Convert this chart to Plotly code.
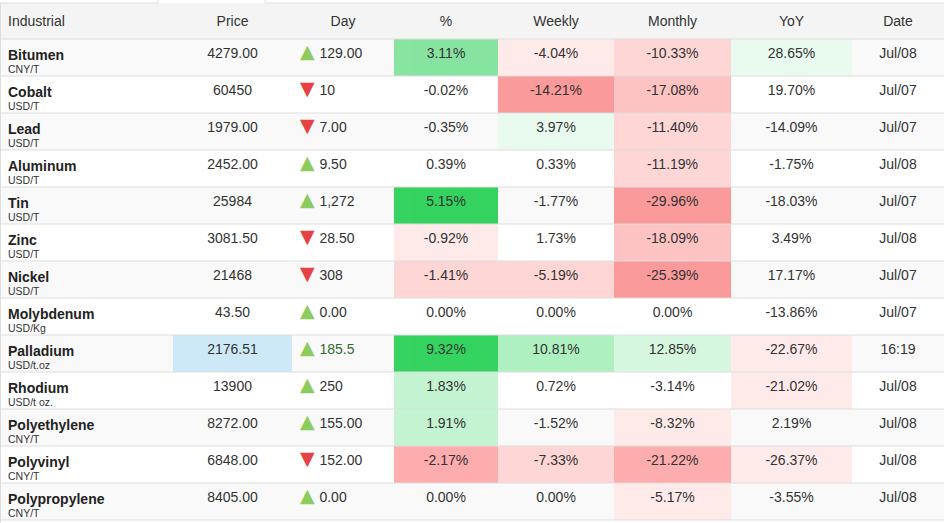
import plotly.graph_objects as go

# commodity table data
names = ["Bitumen", "Cobalt", "Lead", "Aluminum", "Tin", "Zinc", "Nickel",
         "Molybdenum", "Palladium", "Rhodium", "Polyethylene", "Polyvinyl",
         "Polypropylene"]
units = ["CNY/T", "USD/T", "USD/T", "USD/T", "USD/T", "USD/T", "USD/T",
         "USD/Kg", "USD/t.oz", "USD/t oz.", "CNY/T", "CNY/T", "CNY/T"]
prices = ["4279.00", "60450", "1979.00", "2452.00", "25984", "3081.50", "21468",
          "43.50", "2176.51", "13900", "8272.00", "6848.00", "8405.00"]
day_change = ["129.00", "-10", "-7.00", "9.50", "1,272", "-28.50", "-308",
              "0.00", "185.5", "250", "155.00", "-152.00", "0.00"]
pct = [3.11, -0.02, -0.35, 0.39, 5.15, -0.92, -1.41, 0.00, 9.32, 1.83, 1.91, -2.17, 0.00]
weekly = [-4.04, -14.21, 3.97, 0.33, -1.77, 1.73, -5.19, 0.00, 10.81, 0.72, -1.52, -7.33, 0.00]
monthly = [-10.33, -17.08, -11.40, -11.19, -29.96, -18.09, -25.39, 0.00, 12.85,
           -3.14, -8.32, -21.22, -5.17]
yoy = [28.65, 19.70, -14.09, -1.75, -18.03, 3.49, 17.17, -13.86, -22.67, -21.02,
       2.19, -26.37, -3.55]
dates = ["Jul/08", "Jul/07", "Jul/07", "Jul/08", "Jul/07", "Jul/08", "Jul/07",
         "Jul/07", "16:19", "Jul/08", "Jul/08", "Jul/08", "Jul/08"]
headers = ["Industrial", "Price", "Day", "%", "Weekly", "Monthly", "YoY", "Date"]
live_row = "Palladium"

W = 944
FIG_H = 560          # taller than the window, the bottom is cut like the page
TOP = 3
HEAD_H = 36
HEAD_SHIFT = 4       # header text sits a bit lower than the table's own padding
ROW_H = 37
UNIT_DY = 18         # unit line below the name
TRI_DY = -3          # arrows a touch higher
col_widths = [173, 119, 102, 104, 116, 117, 121, 92]
FONT = "Liberation Sans, Arial, sans-serif"
CLEAR = "rgba(0,0,0,0)"

greens = ["#e9faee", "#d5f7df", "#c3f3d0", "#aef0c0", "#99eab0", "#86e4a0", "#34d35f"]
reds = ["#ffeaea", "#ffd6d6", "#fdc2c2", "#fdadad", "#fa9a9a", "#f78686"]
stripe = ["#f9f9f9", "#ffffff"]


def heat(values, step):
    out = []
    for i, v in enumerate(values):
        tier = int(abs(v) / step)
        if tier == 0:
            out.append(stripe[i % 2])
        elif v > 0:
            out.append(greens[min(tier, len(greens)) - 1])
        else:
            out.append(reds[min(tier, len(reds)) - 1])
    return out


def fmt(values):
    return ["%.2f%%" % v for v in values]


def ypx(px):
    return 1 - px / FIG_H


n = len(names)
base = [stripe[i % 2] for i in range(n)]
price_fill = ["#cde9f8" if names[i] == live_row else base[i] for i in range(n)]
name_cells = ["<b>%s</b>" % s for s in names]

pad = "\u00a0" * 5
day_cells = [pad + d.lstrip("-") for d in day_change]
day_colors = ["#2f6b2f" if names[i] == live_row else "#333" for i in range(n)]
tri_cells = ["▼" if d.startswith("-") else "▲" for d in day_change]
tri_colors = ["#e84141" if d.startswith("-") else "#8dcb5c" for d in day_change]

dom_y = [0, ypx(TOP + HEAD_SHIFT)]

fig = go.Figure()
fig.add_trace(go.Table(
    domain=dict(x=[0, 1], y=dom_y),
    columnwidth=col_widths,
    header=dict(
        values=headers,
        fill_color="#f4f4f4",
        line=dict(width=0),
        align=["left"] + ["center"] * 7,
        font=dict(family=FONT, size=14, color="#333"),
        height=HEAD_H - HEAD_SHIFT,
    ),
    cells=dict(
        values=[name_cells, prices, day_cells, fmt(pct), fmt(weekly), fmt(monthly),
                fmt(yoy), dates],
        fill_color=[base, price_fill, base, heat(pct, 0.5), heat(weekly, 2.5),
                    heat(monthly, 5), heat(yoy, 20), base],
        line=dict(width=0),
        align=["left", "center", "left", "center", "center", "center", "center", "center"],
        font=dict(family=FONT, size=14,
                  color=["#222", "#333", day_colors, "#333", "#333", "#333", "#333", "#333"]),
        height=ROW_H,
    ),
))

# arrows of the Day column
x_day = sum(col_widths[:2])
fig.add_trace(go.Table(
    domain=dict(x=[x_day / W, (x_day + col_widths[2]) / W], y=dom_y),
    header=dict(values=[""], fill_color=CLEAR, line=dict(width=0),
                height=HEAD_H - HEAD_SHIFT + TRI_DY),
    cells=dict(values=[tri_cells], fill_color=CLEAR, line=dict(width=0), align="left",
               font=dict(family="DejaVu Sans", size=19, color=[tri_colors]), height=ROW_H),
))

# unit line under each commodity name
fig.add_trace(go.Table(
    domain=dict(x=[0, col_widths[0] / W], y=dom_y),
    header=dict(values=[""], fill_color=CLEAR, line=dict(width=0),
                height=HEAD_H - HEAD_SHIFT + UNIT_DY),
    cells=dict(values=[units], fill_color=CLEAR, line=dict(width=0), align="left",
               font=dict(family=FONT, size=10.5, color="#333"), height=ROW_H),
))

# horizontal separators only, like the page's css table
line_col = "#dddddd"
shapes = [dict(type="rect", xref="paper", yref="paper", x0=0, x1=1,
               y0=ypx(TOP + HEAD_SHIFT), y1=ypx(TOP), fillcolor="#f4f4f4",
               line=dict(width=0))]
for k in range(n + 1):
    y = TOP + HEAD_H + k * ROW_H
    shapes.append(dict(type="line", xref="paper", yref="paper", x0=0, x1=1,
                       y0=ypx(y), y1=ypx(y), line=dict(color=line_col, width=1)))
# top border with the tab gap, and left border
shapes.append(dict(type="line", xref="paper", yref="paper", x0=0, x1=158 / W,
                   y0=ypx(TOP), y1=ypx(TOP), line=dict(color=line_col, width=1)))
shapes.append(dict(type="line", xref="paper", yref="paper", x0=265 / W, x1=1,
                   y0=ypx(TOP), y1=ypx(TOP), line=dict(color=line_col, width=1)))
for xp in (158, 265):
    shapes.append(dict(type="line", xref="paper", yref="paper", x0=xp / W, x1=xp / W,
                       y0=ypx(TOP), y1=1, line=dict(color=line_col, width=1)))
shapes.append(dict(type="line", xref="paper", yref="paper", x0=0.5 / W, x1=0.5 / W,
                   y0=0, y1=ypx(TOP), line=dict(color=line_col, width=1)))

fig.update_layout(
    width=W, height=FIG_H,
    margin=dict(l=0, r=0, t=0, b=0),
    paper_bgcolor="white",
    shapes=shapes,
)

fig.write_html(
    "out.html",
    config={"displayModeBar": False},
    post_script="document.documentElement.style.overflow='hidden';"
                "document.body.style.overflow='hidden';document.body.style.margin='0';",
)
